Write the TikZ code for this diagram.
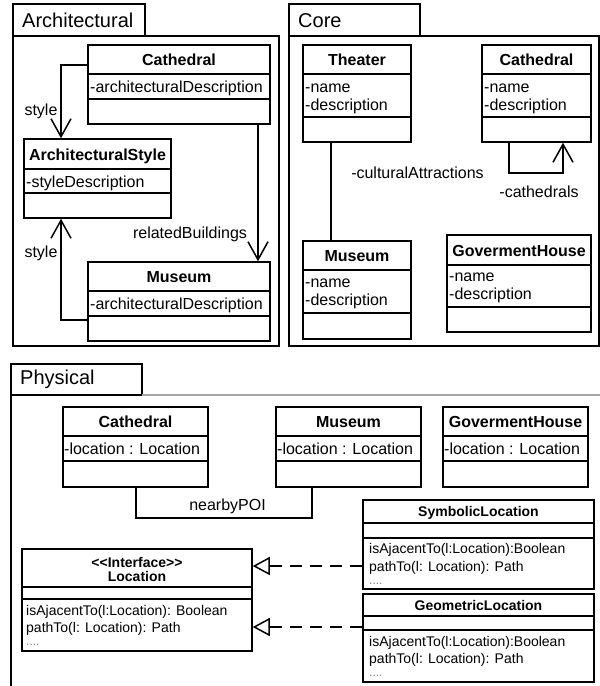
\documentclass[tikz,border=0pt]{standalone}
\usepackage{fontspec}
\setmainfont{Liberation Sans}
\usetikzlibrary{arrows.meta,fit,calc}
\newcommand\clsbox[7]{%
  \node[box, fit={(#2,#3) (#4,#5)}] (#1) {};
  \draw[div] (#1.west |- 0,#6) -- (#1.east |- 0,#6);
  \draw[div] (#1.west |- 0,#7) -- (#1.east |- 0,#7);
}
\begin{document}
\begin{tikzpicture}[x=1pt,y=-1pt,
  box/.style={draw, line width=1.5pt, inner sep=0pt},
  div/.style={line width=1.5pt},
  ttl/.style={inner sep=0pt, anchor=base, font=\fontsize{16}{19}\selectfont\bfseries},
  att/.style={inner sep=0pt, anchor=base west, font=\fontsize{16}{19}\selectfont},
  sttl/.style={inner sep=0pt, anchor=base, font=\fontsize{14}{17}\selectfont\bfseries},
  meth/.style={inner sep=0pt, anchor=base west, font=\fontsize{14}{17}\selectfont},
  dotsty/.style={inner sep=0pt, anchor=base west, font=\fontsize{12}{14}\selectfont, text=gray},
  lbl/.style={inner sep=0pt, anchor=base, font=\fontsize{16}{19}\selectfont},
  ftl/.style={inner sep=0pt, anchor=base west, font=\fontsize{20}{24}\selectfont},
  frm/.style={line width=1.5pt},
  assoc/.style={line width=1.5pt, -{Straight Barb[length=18pt,width=20pt]}},
  realz/.style={line width=1.5pt, dash pattern=on 12pt off 8pt, -{Triangle[open,length=17pt,width=18pt,fill=white]}},
  plain/.style={line width=1.5pt}]
\useasboundingbox (0,0) rectangle (600,686);

% ---------- frames ----------
\draw[frm] (13,4) rectangle (145,36);
\node[ftl] (fArch) at (22,27) {Architectural};
\draw[frm] (13,36) rectangle (279,346);

\draw[frm] (289,4) rectangle (420,36);
\node[ftl] (fCore) at (298,27) {Core};
\draw[frm] (289,36) rectangle (599,346);

\draw[frm] (11,364) rectangle (142,395);
\node[ftl] (fPhys) at (20,384) {Physical};
\draw[line width=1.2pt, gray!70] (142,395) -- (600,395);
\draw[frm] (11,395) -- (11,686);

% ---------- Architectural ----------
\clsbox{acath}{88}{45}{270}{124}{74}{99}
\node[ttl] (acathT) at (179,65) {Cathedral};
\node[att] (acathA) at (90,92) {-architecturalDescription};

\clsbox{astyle}{24}{139}{171}{218}{169}{193}
\node[ttl] (astyleT) at (97.5,160) {ArchitecturalStyle};
\node[att] (astyleA) at (26,187) {-styleDescription};

\clsbox{amus}{88}{262}{270}{341}{291}{316}
\node[ttl] (amusT) at (179,282) {Museum};
\node[att] (amusA) at (90,309) {-architecturalDescription};

\draw[assoc] (acath.west |- 0,65) -| (astyle.north -| 61,0);
\draw[assoc] (amus.west |- 0,320) -| (astyle.south -| 61,0);
\draw[assoc] (acath.south -| 258,0) -- (amus.north -| 258,0);
\node[lbl] (l1) at (41,115) {style};
\node[lbl] (l2) at (41,257) {style};
\node[lbl] (l3) at (190,238) {relatedBuildings};

% ---------- Core ----------
\clsbox{theater}{303}{45}{411}{142}{74}{117}
\node[ttl] (thT) at (357,65) {Theater};
\node[att] (thA1) at (305,92) {-name};
\node[att] (thA2) at (305,110) {-description};

\clsbox{ccath}{482}{45}{591}{142}{74}{117}
\node[ttl] (ccT) at (536.5,65) {Cathedral};
\node[att] (ccA1) at (484,92) {-name};
\node[att] (ccA2) at (484,110) {-description};

\clsbox{cmus}{303}{241}{411}{339}{270}{313}
\node[ttl] (cmT) at (357,261) {Museum};
\node[att] (cmA1) at (305,287) {-name};
\node[att] (cmA2) at (305,305) {-description};

\clsbox{gov}{447}{235}{591}{332}{265}{307}
\node[ttl] (gvT) at (519,256) {GovermentHouse};
\node[att] (gvA1) at (449,281) {-name};
\node[att] (gvA2) at (449,299) {-description};

\draw[plain] (theater.south -| 331,0) -- (cmus.north -| 331,0);
\coordinate (loopA) at (509,173);
\coordinate (loopB) at (563,173);
\draw[assoc] (ccath.south -| 509,0) -- (loopA) -- (loopB) -- (ccath.south -| 563,0);
\node[lbl] (l4) at (417.5,178) {-culturalAttractions};
\node[lbl] (l5) at (539,197) {-cathedrals};

% ---------- Physical ----------
\clsbox{pcath}{63}{407}{208}{487}{436}{461}
\node[ttl] (pcT) at (135.5,427) {Cathedral};
\node[att] (pcA) at (64,454) {-location : Location};

\clsbox{pmus}{276}{407}{421}{487}{436}{461}
\node[ttl] (pmT) at (348.5,427) {Museum};
\node[att] (pmA) at (277,454) {-location : Location};

\clsbox{pgov}{443}{407}{588}{487}{436}{461}
\node[ttl] (pgT) at (515.5,427) {GovermentHouse};
\node[att] (pgA) at (444,454) {-location : Location};

\coordinate (nbA) at (136,518);
\coordinate (nbB) at (312,518);
\draw[plain] (pcath.south -| 136,0) -- (nbA) -- (nbB) -- (pmus.south -| 312,0);
\node[lbl] (l6) at (227.5,510) {nearbyPOI};

\clsbox{loc}{22}{549}{252}{651}{587}{599}
\node[sttl] (locT1) at (137,567) {<\kern0pt<Interface>\kern0pt>};
\node[sttl] (locT2) at (137,581) {Location};
\node[meth] (locM1) at (26,615) {isAjacentTo(l:Location): Boolean};
\node[meth] (locM2) at (26,632) {pathTo(l: Location): Path};
\node[dotsty] (locM3) at (26,645) {....};

\clsbox{sym}{363}{500}{594}{589}{523}{538}
\node[sttl] (symT) at (478.5,516.5) {SymbolicLocation};
\node[meth] (symM1) at (369,553) {isAjacentTo(l:Location):Boolean};
\node[meth] (symM2) at (369,571) {pathTo(l: Location): Path};
\node[dotsty] (symM3) at (369,584) {....};

\clsbox{geo}{363}{594}{594}{682}{616}{630}
\node[sttl] (geoT) at (478.5,610) {GeometricLocation};
\node[meth] (geoM1) at (369,646) {isAjacentTo(l:Location):Boolean};
\node[meth] (geoM2) at (369,663) {pathTo(l: Location): Path};
\node[dotsty] (geoM3) at (369,676) {....};

\draw[realz] (sym.west |- 0,566) -- (loc.east |- 0,566);
\draw[realz] (geo.west |- 0,627) -- (loc.east |- 0,627);
\end{tikzpicture}
\end{document}
